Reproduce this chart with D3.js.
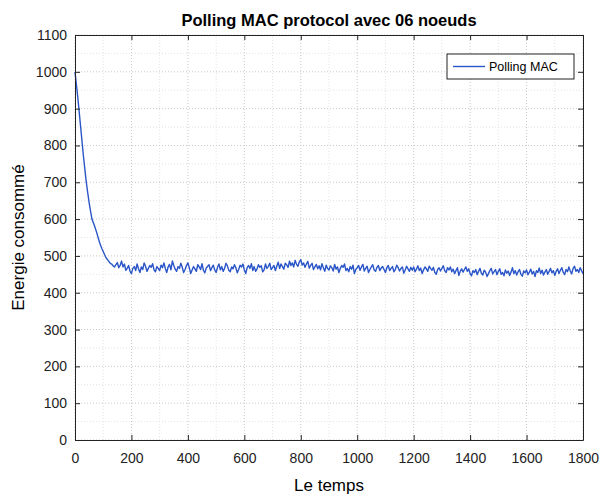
<!DOCTYPE html>
<html>
<head>
<meta charset="utf-8">
<script src="https://cdn.jsdelivr.net/npm/d3@7"></script>
<style>
  body { margin: 0; background: #fff; }
  text { font-family: "Liberation Sans", Arial, sans-serif; }
</style>
</head>
<body>
<div id="content"></div>
<script>
// chart data
const title = "Polling MAC protocol avec 06 noeuds";
const seriesName = "Polling MAC";
const timeStep = 5;
const energy = [
  1000, 965, 930, 890, 850, 810, 770, 735, 700, 672,
  645, 622, 600, 590, 580, 568, 555, 542, 530, 520,
  512, 503, 495, 490, 485, 480, 478, 473, 470, 476,
  482, 468, 474, 486, 470, 478, 461, 466, 474, 458,
  452, 466, 471, 460, 478, 465, 455, 470, 463, 481, 472, 458, 466, 474, 469, 479, 462, 457, 471, 466,
  460, 475, 468, 481, 466, 455, 470, 477, 462, 486, 474, 464, 458, 471, 466, 480, 469, 455, 463, 474,
  481, 468, 452, 462, 471, 465, 458, 476, 470, 463, 479, 461, 454, 467, 472, 476, 460, 468, 475, 462,
  455, 469, 478, 462, 471, 458, 466, 480, 473, 461, 457, 470, 465, 476, 468, 454, 463, 475, 470, 478,
  462, 452, 468, 474, 466, 479, 460, 471, 458, 465, 476, 469, 473, 457, 462, 478, 466, 471, 480, 463,
  468, 474, 460, 472, 483, 466, 478, 471, 464, 480, 476, 469, 486, 474, 481, 470, 488, 477, 472, 484,
  490, 475, 481, 469, 478, 485, 467, 474, 480, 463, 470, 477, 465, 473, 462, 479, 468, 458, 475, 466,
  462, 473, 468, 459, 477, 464, 470, 455, 466, 474, 469, 478, 460, 466, 457, 471, 464, 475, 452, 463,
  468, 474, 461, 470, 477, 459, 466, 472, 455, 463, 470, 476, 462, 458, 469, 474, 460, 467, 471, 463,
  455, 468, 474, 460, 466, 471, 457, 463, 475, 468, 459, 466, 470, 453, 462, 472, 465, 458, 469, 461,
  470, 457, 464, 473, 460, 467, 452, 462, 470, 465, 458, 472, 466, 461, 469, 455, 450, 463, 468, 459,
  466, 473, 460, 455, 468, 462, 470, 457, 464, 452, 460, 468, 447, 458, 465, 456, 463, 470, 458, 465,
  452, 446, 460, 455, 463, 449, 458, 466, 453, 448, 461, 456, 444, 452, 460, 466, 451, 457, 463, 449,
  458, 465, 450, 455, 446, 462, 453, 459, 447, 456, 468, 452, 460, 448, 457, 463, 450, 445, 459, 454,
  462, 449, 456, 464, 451, 458, 444, 460, 455, 467, 452, 461, 448, 456, 463, 450, 458, 466, 454, 460,
  447, 458, 465, 452, 461, 468, 455, 449, 463, 457, 470, 459, 451, 466, 472, 458, 463, 455, 468, 460,
  452
];
const xTicks = [0, 200, 400, 600, 800, 1000, 1200, 1400, 1600, 1800];
const yTicks = [0, 100, 200, 300, 400, 500, 600, 700, 800, 900, 1000, 1100];

const width = 603, height = 497;
const margin = { left: 75, right: 20, top: 35, bottom: 57 };

const svg = d3.select("#content")
    .append("svg")
    .attr("width", width)
    .attr("height", height);

const xScale = d3.scaleLinear()
    .domain([0, 1800])
    .range([margin.left, width - margin.right]);

const yScale = d3.scaleLinear()
    .domain([0, 1100])
    .range([height - margin.bottom, margin.top]);

const x0 = xScale.range()[0], x1 = xScale.range()[1];
const y0 = yScale.range()[0], y1 = yScale.range()[1];

// minor grid
const xMinor = d3.range(100, 1800, 200);
const yMinor = d3.range(50, 1100, 100);
svg.append("g").selectAll("line").data(xMinor).enter().append("line")
    .attr("x1", d => xScale(d)).attr("x2", d => xScale(d))
    .attr("y1", y0).attr("y2", y1)
    .attr("stroke", "#e2e2e2").attr("stroke-dasharray", "1,2");
svg.append("g").selectAll("line").data(yMinor).enter().append("line")
    .attr("y1", d => yScale(d)).attr("y2", d => yScale(d))
    .attr("x1", x0).attr("x2", x1)
    .attr("stroke", "#e2e2e2").attr("stroke-dasharray", "1,2");

// major grid
svg.append("g").selectAll("line").data(xTicks).enter().append("line")
    .attr("x1", d => xScale(d)).attr("x2", d => xScale(d))
    .attr("y1", y0).attr("y2", y1)
    .attr("stroke", "#c8c8c8").attr("stroke-dasharray", "1,2");
svg.append("g").selectAll("line").data(yTicks).enter().append("line")
    .attr("y1", d => yScale(d)).attr("y2", d => yScale(d))
    .attr("x1", x0).attr("x2", x1)
    .attr("stroke", "#c8c8c8").attr("stroke-dasharray", "1,2");

// line
const line = d3.line()
    .x((d, i) => xScale(i * timeStep))
    .y(d => yScale(d));

svg.append("path")
    .datum(energy)
    .attr("fill", "none")
    .attr("stroke", "#2a55c8")
    .attr("stroke-width", 1.4)
    .attr("stroke-linejoin", "round")
    .attr("d", line);

// axes, ticks inside, box on
const tickStyle = g => {
    g.selectAll("text").attr("font-size", 14).attr("fill", "#222");
    g.selectAll("line").attr("stroke", "#222");
    g.select(".domain").attr("stroke", "#222");
};
svg.append("g")
    .attr("transform", "translate(0," + y0 + ")")
    .call(d3.axisBottom(xScale).tickValues(xTicks).tickFormat(d3.format("d")).tickSizeInner(-5).tickSizeOuter(0).tickPadding(13))
    .call(tickStyle);
svg.append("g")
    .attr("transform", "translate(" + x0 + ",0)")
    .call(d3.axisLeft(yScale).tickValues(yTicks).tickFormat(d3.format("d")).tickSizeInner(-5).tickSizeOuter(0).tickPadding(8))
    .call(tickStyle);
svg.append("g")
    .attr("transform", "translate(0," + y1 + ")")
    .call(d3.axisTop(xScale).tickValues(xTicks).tickSizeInner(-5).tickSizeOuter(0).tickFormat(""))
    .call(tickStyle);
svg.append("g")
    .attr("transform", "translate(" + x1 + ",0)")
    .call(d3.axisRight(yScale).tickValues(yTicks).tickSizeInner(-5).tickSizeOuter(0).tickFormat(""))
    .call(tickStyle);

// title and labels
svg.append("text")
    .attr("x", (x0 + x1) / 2).attr("y", 26)
    .attr("text-anchor", "middle")
    .attr("font-size", 16.5).attr("font-weight", "bold")
    .text(title);

svg.append("text")
    .attr("x", (x0 + x1) / 2).attr("y", 491)
    .attr("text-anchor", "middle")
    .attr("font-size", 17)
    .text("Le temps");

svg.append("text")
    .attr("transform", "rotate(-90)")
    .attr("x", -(y0 + y1) / 2).attr("y", 24)
    .attr("text-anchor", "middle")
    .attr("font-size", 17)
    .text("Energie consommé");

// legend
const legend = svg.append("g").attr("transform", "translate(447,54)");
legend.append("rect")
    .attr("width", 127).attr("height", 25)
    .attr("fill", "#fff").attr("stroke", "#222");
legend.append("line")
    .attr("x1", 6).attr("x2", 38).attr("y1", 12.5).attr("y2", 12.5)
    .attr("stroke", "#2a55c8").attr("stroke-width", 1.4);
legend.append("text")
    .attr("x", 42).attr("y", 17)
    .attr("font-size", 12.5)
    .text(seriesName);
</script>
</body>
</html>
